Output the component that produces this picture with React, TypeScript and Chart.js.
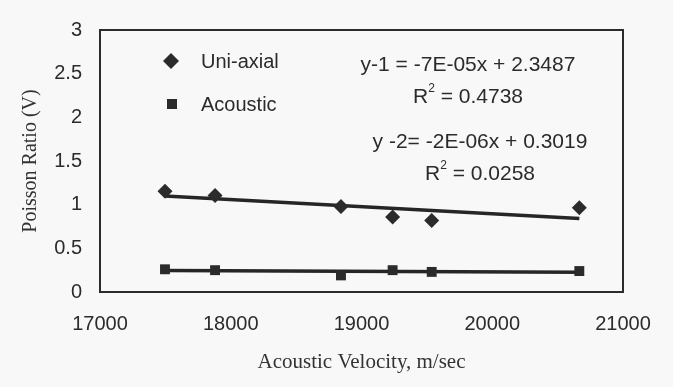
import { useEffect, useRef } from "react";
import { Chart, registerables } from "chart.js";

Chart.register(...registerables);

// ---- data ----
const velocity = [17497, 17880, 18843, 19238, 19537, 20666];
const uniaxial = [1.155, 1.106, 0.98, 0.86, 0.82, 0.966];
const acoustic = [0.26, 0.25, 0.19, 0.25, 0.23, 0.24];
const xTicks = [17000, 18000, 19000, 20000, 21000];
const yTicks = [0, 0.5, 1, 1.5, 2, 2.5, 3];
const seriesNames = ["Uni-axial", "Acoustic"];
const equations = ["y-1 = -7E-05x + 2.3487", "y -2= -2E-06x + 0.3019"];
const rSquared = ["0.4738", "0.0258"];
const xTitle = "Acoustic Velocity, m/sec";
const yTitle = "Poisson Ratio (V)";

const SANS = "'Liberation Sans', Arial, sans-serif";
const SERIF = "'Liberation Serif', 'Times New Roman', serif";
const INK = "#2b2b2b";
const BG = "#f8f8f8";

function linearFit(xs: number[], ys: number[]) {
  const n = xs.length;
  const mx = xs.reduce((a, b) => a + b, 0) / n;
  const my = ys.reduce((a, b) => a + b, 0) / n;
  let sxy = 0;
  let sxx = 0;
  for (let i = 0; i < n; i++) {
    sxy += (xs[i] - mx) * (ys[i] - my);
    sxx += (xs[i] - mx) * (xs[i] - mx);
  }
  const slope = sxy / sxx;
  const intercept = my - slope * mx;
  const x0 = Math.min(...xs);
  const x1 = Math.max(...xs);
  return [
    { x: x0, y: intercept + slope * x0 },
    { x: x1, y: intercept + slope * x1 },
  ];
}

function drawDiamond(ctx: CanvasRenderingContext2D, x: number, y: number, r: number) {
  ctx.beginPath();
  ctx.moveTo(x, y - r);
  ctx.lineTo(x + r, y);
  ctx.lineTo(x, y + r);
  ctx.lineTo(x - r, y);
  ctx.closePath();
  ctx.fill();
}

const decorPlugin = {
  id: "decor",
  beforeDraw(chart: any) {
    const { ctx, width, height } = chart;
    ctx.save();
    ctx.fillStyle = BG;
    ctx.fillRect(0, 0, width, height);
    ctx.restore();
  },
  afterDraw(chart: any) {
    const { ctx, chartArea: ca } = chart;
    ctx.save();
    // plot frame
    ctx.strokeStyle = INK;
    ctx.lineWidth = 2;
    ctx.strokeRect(ca.left, ca.top, ca.right - ca.left, ca.bottom - ca.top);

    // legend inside plot
    ctx.fillStyle = INK;
    ctx.font = `20px ${SANS}`;
    ctx.textBaseline = "middle";
    ctx.textAlign = "left";
    drawDiamond(ctx, ca.left + 71, ca.top + 31, 8);
    ctx.fillText(seriesNames[0], ca.left + 101, ca.top + 32);
    ctx.fillRect(ca.left + 72 - 5, ca.top + 74 - 5, 10, 10);
    ctx.fillText(seriesNames[1], ca.left + 101, ca.top + 75);

    // trendline equations
    const eqPos = [
      { cx: ca.left + 368, y1: ca.top + 35, y2: ca.top + 67 },
      { cx: ca.left + 380, y1: ca.top + 112, y2: ca.top + 144 },
    ];
    eqPos.forEach((p, i) => {
      ctx.font = `21px ${SANS}`;
      ctx.textAlign = "center";
      ctx.fillText(equations[i], p.cx, p.y1);
      // R² line
      const rest = " = " + rSquared[i];
      const wR = ctx.measureText("R").width;
      const wRest = ctx.measureText(rest).width;
      ctx.font = `12px ${SANS}`;
      const wSup = ctx.measureText("2").width;
      const total = wR + wSup + wRest;
      let x = p.cx - total / 2;
      ctx.textAlign = "left";
      ctx.font = `21px ${SANS}`;
      ctx.fillText("R", x, p.y2);
      x += wR;
      ctx.font = `12px ${SANS}`;
      ctx.fillText("2", x, p.y2 - 8);
      x += wSup;
      ctx.font = `21px ${SANS}`;
      ctx.fillText(rest, x, p.y2);
    });
    ctx.restore();
  },
};

export default function App() {
  const ref = useRef<HTMLCanvasElement>(null);

  useEffect(() => {
    const canvas = ref.current;
    if (!canvas) return;
    const chart = new Chart(canvas, {
      type: "scatter",
      data: {
        datasets: [
          {
            label: seriesNames[0],
            data: velocity.map((x, i) => ({ x, y: uniaxial[i] })),
            pointStyle: "rectRot",
            pointRadius: 7.5,
            backgroundColor: INK,
            borderColor: INK,
            borderWidth: 0,
            order: 0,
          },
          {
            label: seriesNames[1],
            data: velocity.map((x, i) => ({ x, y: acoustic[i] })),
            pointStyle: "rect",
            pointRadius: 7,
            backgroundColor: INK,
            borderColor: INK,
            borderWidth: 0,
            order: 0,
          },
          {
            label: "trend 1",
            data: linearFit(velocity, uniaxial),
            showLine: true,
            pointRadius: 0,
            borderColor: "#262626",
            borderWidth: 3.5,
            order: 1,
          },
          {
            label: "trend 2",
            data: linearFit(velocity, acoustic),
            showLine: true,
            pointRadius: 0,
            borderColor: "#262626",
            borderWidth: 3.5,
            order: 1,
          },
        ],
      },
      options: {
        responsive: false,
        animation: false,
        layout: { padding: { top: 28, right: 50, left: 0, bottom: 0 } },
        plugins: {
          legend: { display: false },
          tooltip: { enabled: false },
        },
        scales: {
          x: {
            type: "linear",
            min: xTicks[0],
            max: xTicks[xTicks.length - 1],
            afterBuildTicks: (s: any) => {
              s.ticks = xTicks.map((v) => ({ value: v }));
            },
            afterFit: (s: any) => {
              s.height = 95;
            },
            grid: { display: false, drawTicks: false },
            border: { display: false },
            ticks: {
              padding: 20,
              color: INK,
              font: { family: SANS, size: 20 },
              callback: (v: any) => String(v),
              maxRotation: 0,
            },
            title: {
              display: true,
              text: xTitle,
              color: "#333333",
              font: { family: SERIF, size: 21 },
              padding: { top: 0, bottom: 12 },
            },
          },
          y: {
            type: "linear",
            min: yTicks[0],
            max: yTicks[yTicks.length - 1],
            afterBuildTicks: (s: any) => {
              s.ticks = yTicks.map((v) => ({ value: v }));
            },
            afterFit: (s: any) => {
              s.width = 100;
            },
            grid: { display: false, drawTicks: false },
            border: { display: false },
            ticks: {
              padding: 18,
              color: INK,
              font: { family: SANS, size: 20 },
              callback: (v: any) => String(v),
            },
            title: {
              display: true,
              text: yTitle,
              color: "#333333",
              font: { family: SERIF, size: 20 },
              padding: { top: 19, bottom: 0 },
            },
          },
        },
      },
      plugins: [decorPlugin],
    } as any);
    return () => chart.destroy();
  }, []);

  return (
    <div
      style={{
        position: "fixed",
        left: 0,
        top: 0,
        width: 673,
        height: 387,
        background: BG,
      }}
    >
      <canvas ref={ref} width={673} height={387} style={{ display: "block" }} />
    </div>
  );
}
